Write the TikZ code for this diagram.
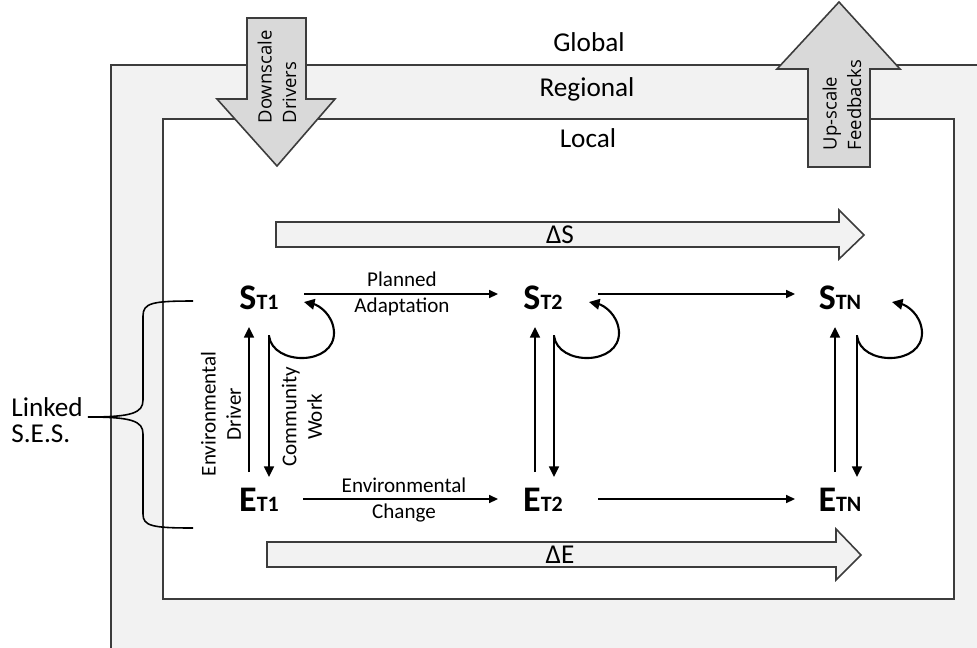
\documentclass[tikz,border=0pt]{standalone}
\usepackage{fontspec}
\setmainfont{Carlito}
\newfontfamily\arrowfont{Open Sans}
\usetikzlibrary{arrows.meta}
\definecolor{boxgray}{HTML}{F2F2F2}
\definecolor{arrowgray}{HTML}{D9D9D9}
\definecolor{edgegray}{HTML}{3C3C3C}
\newcommand{\sesstate}[2]{{\fontsize{20.5}{20}\selectfont\bfseries #1}{\fontsize{12.5}{12}\selectfont\bfseries #2}}

\begin{document}
\begin{tikzpicture}[x=0.02cm, y=-0.02cm,
        frame/.style={draw=edgegray, line width=0.9pt},
        bigarrow/.style={frame, fill=arrowgray},
        trendarrow/.style={frame, fill=boxgray},
        scalelabel/.style={font=\fontsize{15.5}{15}\selectfont},
        arrowlabel/.style={font=\arrowfont\fontsize{10.5}{14}\selectfont, align=left, rotate=90},
        smalllabel/.style={font=\fontsize{12}{14.5}\selectfont, align=center},
        link/.style={line width=0.9pt, -{Triangle[length=5pt,width=4.5pt]}},
        couple/.style={line width=1.4pt, -{Triangle[length=6pt,width=5.5pt]}},
        selfloop/.style={line width=1.2pt, -{Triangle[length=6pt,width=6pt]}}]
        \clip (0, 0) rectangle (977, 647);
        \draw[frame, fill=boxgray] (111, 65) rectangle (1000, 680);
        \draw[frame, fill=white] (163, 119) rectangle (954, 599);
        \node[scalelabel] (global) at (589, 42) {Global};
        \node[scalelabel] (regional) at (587, 89) {Regional};
        \node[scalelabel] (local) at (588, 138) {Local};
        \draw[bigarrow] (247, 18) -- (306, 18) -- (306, 99) -- (335, 99) -- (277, 166) -- (217, 99) -- (247, 99) -- cycle;
        \node[arrowlabel] (downscale) at (277, 77) {Downscale\\Drivers};
        \draw[bigarrow] (808, 167) -- (870, 167) -- (870, 69) -- (900, 69) -- (839, 2) -- (777, 69) -- (808, 69) -- cycle;
        \node[arrowlabel] (upscale) at (842, 105) {Up-scale\\Feedbacks};
        \draw[trendarrow] (276, 222) -- (839, 222) -- (839, 210) -- (864, 235) -- (839, 259) -- (839, 247) -- (276, 247) -- cycle;
        \node[scalelabel] (dS) at (560, 235) {ΔS};
        \draw[trendarrow] (267, 542) -- (836, 542) -- (836, 529) -- (861, 555) -- (836, 580) -- (836, 567) -- (267, 567) -- cycle;
        \node[scalelabel] (dE) at (560, 555) {ΔE};
        \node (S1) at (259, 298) {\sesstate{S}{T1}};
        \node (S2) at (543, 298) {\sesstate{S}{T2}};
        \node (SN) at (840, 298) {\sesstate{S}{TN}};
        \node (E1) at (259, 500) {\sesstate{E}{T1}};
        \node (E2) at (543, 500) {\sesstate{E}{T2}};
        \node (EN) at (840, 500) {\sesstate{E}{TN}};
        \draw[link] ([shift={(45, -4)}]S1.center) -- ([shift={(-45, -4)}]S2.center);
        \draw[link] ([shift={(55, -4)}]S2.center) -- ([shift={(-45, -4)}]SN.center);
        \draw[link] ([shift={(44, -1)}]E1.center) -- ([shift={(-45, -1)}]E2.center);
        \draw[link] ([shift={(55, -1)}]E2.center) -- ([shift={(-45, -1)}]EN.center);
        \node[smalllabel] (plan) at (402, 294) {Planned\\Adaptation};
        \node[smalllabel] (change) at (404, 500) {Environmental\\Change};
        \foreach \n/\u/\d in {1/-10/10, 2/-8/11, N/-5/17} {
            \draw[couple] ([shift={(\u, -28)}]E\n.center) -- ([shift={(\u, 29)}]S\n.center);
            \draw[couple] ([shift={(\d, 37)}]S\n.center) -- ([shift={(\d, -23)}]E\n.center);
            \draw[selfloop] ([shift={(\d, 38)}]S\n.center) .. controls +(4, 30) and +(1, 34) .. ([shift={(\d+65, 34)}]S\n.center)
                .. controls +(-1, -18) and +(14, 3) .. ([shift={(\d+35, 4)}]S\n.center);
        }
        \node[smalllabel, rotate=90] (driver) at (221, 414) {Environmental\\Driver};
        \node[smalllabel, rotate=90] (work) at (302, 417) {Community\\Work};
        \node[scalelabel, align=left, anchor=west, inner sep=0pt] (linked) at (11, 420) {Linked\\S.E.S.};
        \draw[line width=0.9pt] (193, 301) .. controls (152, 301) and (143, 303) .. (143, 316) -- (143, 400)
            .. controls (143, 413) and (132, 417) .. (88, 417)
            .. controls (132, 417) and (143, 421) .. (143, 434) -- (143, 514)
            .. controls (143, 526) and (152, 528) .. (193, 528);
    \end{tikzpicture}
\end{document}
